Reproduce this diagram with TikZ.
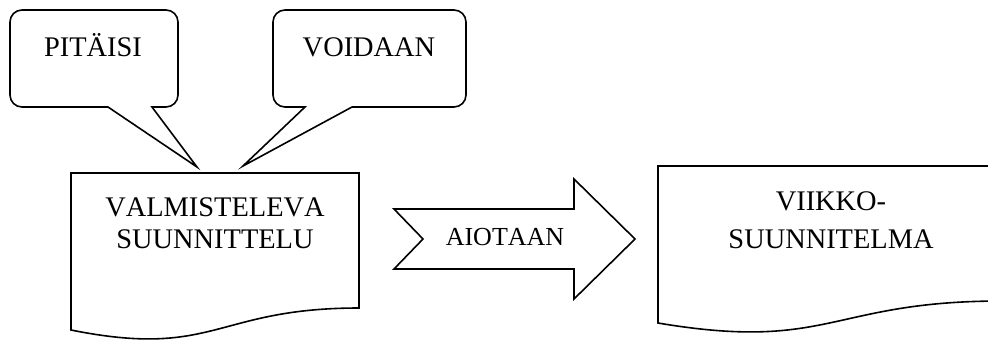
\documentclass[tikz,border=0pt]{standalone}
\usepackage{fontspec}
\setmainfont{Liberation Serif}[Kerning=Off]
\usepackage{tikz}
\usetikzlibrary{positioning}

\begin{document}
\begin{tikzpicture}[x=0.5pt, y=-0.5pt, line width=0.8pt, line join=miter,
	boxtext/.style={font=\fontsize{14.2}{15.8}\selectfont, align=center, anchor=base, inner sep=0pt}]
		\useasboundingbox (0,0) rectangle (988,339);
		\clip (0,0) rectangle (988,339);

		% speech bubbles
		\draw (94,10) [rounded corners=6pt] -- (178,10) -- (178,107) [sharp corners] -- (152,107) -- (197,167) -- (108,107) [rounded corners=6pt] -- (10,107) -- (10,10) -- cycle;
		\draw (370,10) [rounded corners=6pt] -- (466,10) -- (466,107) [sharp corners] -- (352,107) -- (243,166) -- (305,107) [rounded corners=6pt] -- (273,107) -- (273,10) -- cycle;

		% documents
		\draw (71,173) -- (359,173) -- (359,308) .. controls (215,308) and (215,359) .. (71,330) -- cycle;
		\draw (658,166) -- (1002,166) -- (1002,301) .. controls (830,301) and (830,352) .. (658,323) -- cycle;

		% notched arrow
		\draw (394,209) -- (574,209) -- (574,179) -- (635,239) -- (574,299) -- (574,269) -- (394,269) -- (423,239) -- cycle;

		\node[boxtext] (pitaisi) at (93,56) {PITÄISI};
		\node[boxtext] (voidaan) at (369,56) {VOIDAAN};
		\node[boxtext] (valmist) at (215,248) {VALMISTELEVA\\SUUNNITTELU};
		\node[boxtext, font=\fontsize{13}{15}\selectfont] (aiotaan) at (505,245) {AIOTAAN};
		\node[boxtext, font=\fontsize{14.2}{19}\selectfont] (viikko) at (831,248) {VIIKKO-\\SUUNNITELMA};
	\end{tikzpicture}
\end{document}
